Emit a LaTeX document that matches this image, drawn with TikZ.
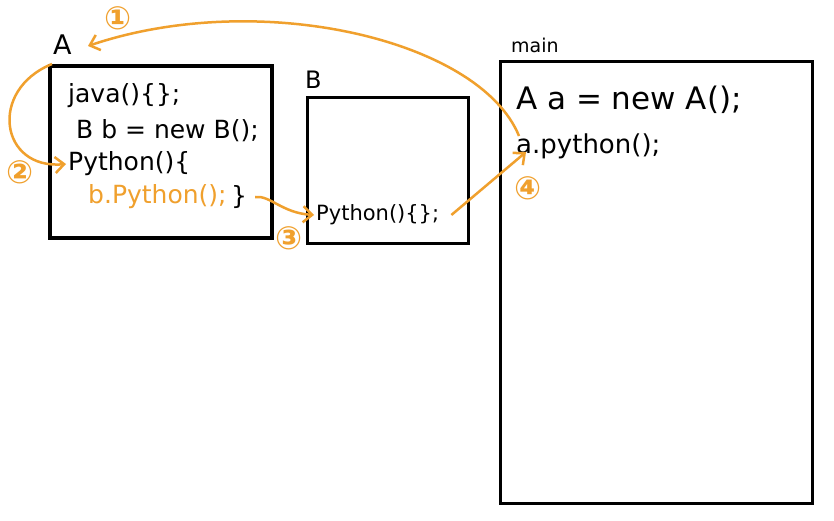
\documentclass[tikz,border=0pt]{standalone}
\usepackage{fontspec}
\setmainfont{DejaVu Sans}
\usetikzlibrary{arrows.meta}
\definecolor{org}{RGB}{240,160,45}
\tikzset{
  box/.style={draw=black, line width=4.5pt},
  boxthin/.style={draw=black, line width=3pt},
  code/.style={anchor=west, inner sep=0pt, font=\fontsize{25}{25}\selectfont},
  bigcode/.style={anchor=west, inner sep=0pt, font=\fontsize{31}{31}\selectfont},
  lbl/.style={anchor=west, inner sep=0pt, font=\fontsize{27}{27}\selectfont},
  num/.style={text=org, inner sep=0pt, font=\fontsize{32}{32}\selectfont\bfseries},
  arr/.style={draw=org, line width=2.5pt, -{Straight Barb[length=9pt,width=16pt]}},
}
\begin{document}
\begin{tikzpicture}[x=1pt,y=-1pt]
\useasboundingbox (0,0) rectangle (834,521);
\fill[white] (0,0) rectangle (834,521);
% boxes
\draw[box] (50,66) rectangle (272,238);
\draw[boxthin] (307,98) rectangle (468,243);
\draw[boxthin] (500,62) rectangle (812,503);
% box labels
\node[lbl] (la) at (53,45) {A};
\node[lbl, font=\fontsize{24}{24}\selectfont] (lb) at (305,80) {B};
\node[lbl, font=\fontsize{19}{19}\selectfont] (lm) at (511,45) {main};
% code in A
\node[code] (j) at (68,96) {java()\{\};};
\node[code] (bb) at (76,131) {B b = new B();};
\node[code] (pa) at (68,164) {Python()\{};
\node[code, text=org] (bp) at (88,197) {b.Python();};
\node[code] (cl) at (bp.east) [anchor=west, xshift=4pt] {\}};
% code in B
\node[code, font=\fontsize{21}{21}\selectfont] (pb) at (316,215) {Python()\{\};};
% code in main
\node[bigcode] (m1) at (516,100) {A a = new A();};
\node[code, font=\fontsize{26}{26}\selectfont] (m2) at (516,146) {a.python();};
% named coordinates
\coordinate (ca) at (52,64);
\coordinate (s1) at (519,136);
\coordinate (t1) at (88,46);
\coordinate (t4) at (526,152);
% arrows
\draw[arr] (s1) .. controls (480,40) and (260,-12) .. (t1);
\draw[arr] (ca) .. controls (-12,90) and (0,170) .. ([xshift=-2pt]pa.west);
\draw[arr] ([xshift=8pt]cl.east) .. controls (270,195) and (282,213) .. ([xshift=-2pt]pb.west);
\draw[arr] ([xshift=12pt]pb.east) -- (t4);
% numbers
\node[num] (n1) at (118,18) {①};
\node[num] (n2) at (20,172) {②};
\node[num] (n3) at (289,238) {③};
\node[num] (n4) at (528,188) {④};
\end{tikzpicture}
\end{document}
